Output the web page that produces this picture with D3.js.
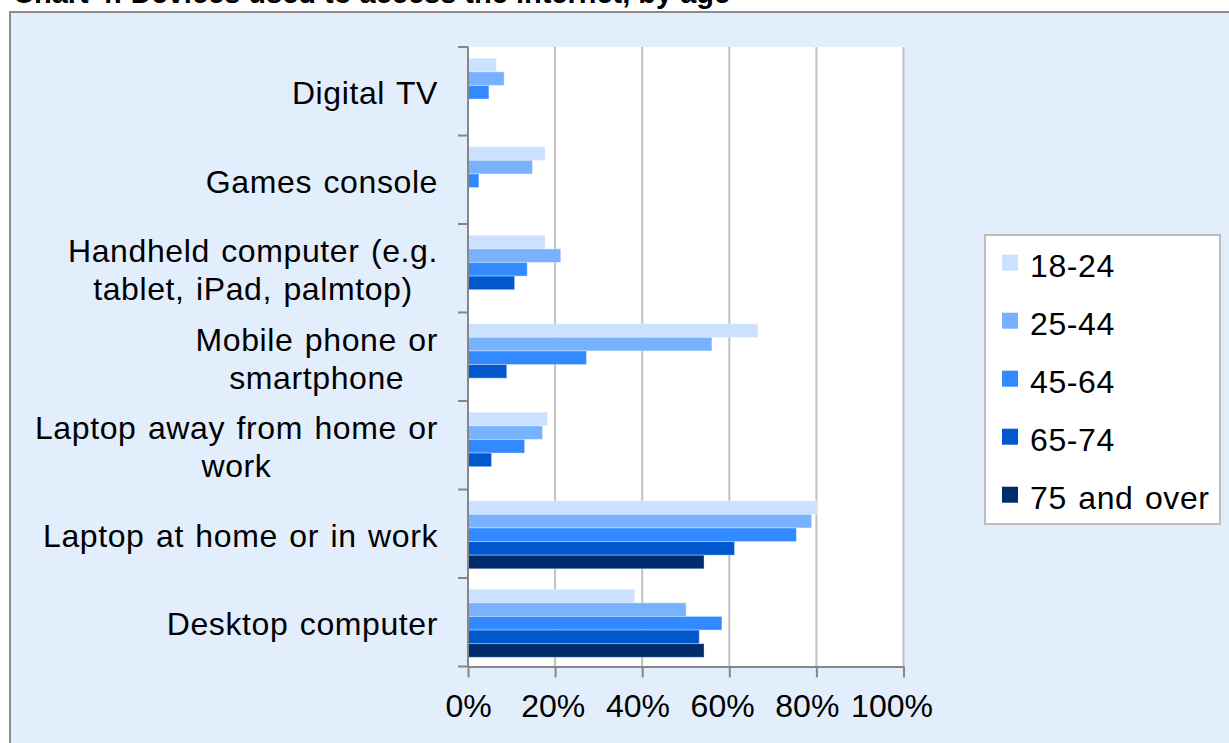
<!DOCTYPE html>
<html>
<head>
<meta charset="utf-8">
<script src="https://cdn.jsdelivr.net/npm/d3@7"></script>
<style>
  html, body { margin: 0; padding: 0; background: #ffffff; overflow: hidden; }
  svg { display: block; }
  text { font-family: "Liberation Sans", Arial, sans-serif; }
</style>
</head>
<body>
<svg id="chart" width="1229" height="743"></svg>
<script>
// Device categories (top to bottom), with their wrapped label lines
const categories = [
  "Digital TV",
  "Games console",
  "Handheld computer",
  "Mobile phone",
  "Laptop away",
  "Laptop at home",
  "Desktop computer"
];
const categoryLines = [
  ["Digital TV"],
  ["Games console"],
  ["Handheld computer (e.g.", "tablet, iPad, palmtop)"],
  ["Mobile phone or", "smartphone"],
  ["Laptop away from home or", "work"],
  ["Laptop at home or in work"],
  ["Desktop computer"]
];

// Age groups and share (%) of each group using each device
const ageGroups = ["18-24", "25-44", "45-64", "65-74", "75 and over"];
const age18to24 = [6.5, 17.7, 17.7, 66.6, 18.3, 80.1, 38.3];
const age25to44 = [8.3, 14.8, 21.3, 56.0, 17.1, 78.9, 50.1];
const age45to64 = [4.8, 2.5, 13.6, 27.2, 13.0, 75.4, 58.3];
const age65to74 = [null, null, 10.7, 8.9, 5.4, 61.2, 53.1];
const age75plus = [null, null, null, null, null, 54.2, 54.2];
const seriesValues = [age18to24, age25to44, age45to64, age65to74, age75plus];

const xTicks = [0, 20, 40, 60, 80, 100];
const titleText = "Chart 4: Devices used to access the internet, by age";

const colors = ["#CCE0FF", "#78B2FF", "#3389FF", "#0057CE", "#002C6B"];

const svg = d3.select("#chart");

// Title (sits above the frame, partly cut at the top edge)
svg.append("text")
  .attr("x", 13).attr("y", 3)
  .attr("font-size", 29).attr("font-weight", "bold")
  .attr("fill", "#000")
  .text(titleText);

// Outer chart frame
svg.append("rect")
  .attr("x", 10).attr("y", 12)
  .attr("width", 1300).attr("height", 800)
  .attr("fill", "#E2EEFC")
  .attr("stroke", "#8C8C8C").attr("stroke-width", 2);

// Scales
const x = d3.scaleLinear().domain([0, 100]).range([468, 903.5]);
const y = d3.scaleBand().domain(categories).range([47, 666.5]).paddingInner(0).paddingOuter(0);
const ySub = d3.scaleBand().domain(ageGroups).range([0, y.bandwidth()]).paddingInner(0).paddingOuter(0.75);

// Plot area
svg.append("rect")
  .attr("x", x(0)).attr("y", y.range()[0])
  .attr("width", x(100) - x(0)).attr("height", y.range()[1] - y.range()[0])
  .attr("fill", "#ffffff");

// Vertical gridlines
svg.append("g")
  .selectAll("line")
  .data(xTicks.filter(d => d > 0))
  .join("line")
  .attr("x1", d => x(d)).attr("x2", d => x(d))
  .attr("y1", y.range()[0]).attr("y2", y.range()[1])
  .attr("stroke", "#C0C0C0").attr("stroke-width", 2);

// Bars
const rows = [];
categories.forEach((c, i) => {
  ageGroups.forEach((g, j) => {
    const v = seriesValues[j][i];
    if (v != null) rows.push({ cat: c, group: g, value: v, color: colors[j] });
  });
});
svg.append("g")
  .selectAll("rect")
  .data(rows)
  .join("rect")
  .attr("x", x(0))
  .attr("y", d => y(d.cat) + ySub(d.group) + 1)
  .attr("width", d => x(d.value) - x(0))
  .attr("height", ySub.bandwidth())
  .attr("fill", d => d.color)
  .attr("stroke", "rgba(255,255,255,0.35)")
  .attr("stroke-width", 1);

// X axis
const xAxis = d3.axisBottom(x)
  .tickValues(xTicks)
  .tickSize(11)
  .tickSizeOuter(0)
  .tickPadding(16)
  .tickFormat(d => d + "%");
const gx = svg.append("g")
  .attr("transform", `translate(0,${y.range()[1]})`)
  .call(xAxis);
gx.select(".domain").attr("stroke", "#878787").attr("stroke-width", 2);
gx.selectAll(".tick line").attr("stroke", "#878787").attr("stroke-width", 2);
gx.selectAll(".tick text")
  .attr("font-size", 32)
  .attr("fill", "#000")
  .attr("dy", "0.72em")
  .attr("dx", d => -d * 0.12);

// Y axis: line with ticks at category boundaries
const boundaries = categories.map(c => y(c)).concat([y.range()[1]]);
const gy = svg.append("g");
gy.append("line")
  .attr("x1", x(0)).attr("x2", x(0))
  .attr("y1", y.range()[0]).attr("y2", y.range()[1] + 1)
  .attr("stroke", "#878787").attr("stroke-width", 2);
gy.selectAll("line.tick")
  .data(boundaries)
  .join("line")
  .attr("class", "tick")
  .attr("x1", x(0) - 10).attr("x2", x(0))
  .attr("y1", d => d).attr("y2", d => d)
  .attr("stroke", "#878787").attr("stroke-width", 2);

// Category labels: right-aligned block, lines centred within it
const labelRight = 438;
const lineH = 38;
categories.forEach((c, i) => {
  const lines = categoryLines[i];
  const cy = y(c) + y.bandwidth() / 2;
  const g = svg.append("g");
  const texts = g.selectAll("text")
    .data(lines)
    .join("text")
    .attr("font-size", 32)
    .attr("letter-spacing", "0.6px")
    .attr("word-spacing", "2px")
    .attr("fill", "#000")
    .attr("text-anchor", "middle")
    .attr("y", (d, k) => cy + (k - (lines.length - 1) / 2) * lineH + 13)
    .text(d => d);
  let maxW = 0;
  texts.each(function () { maxW = Math.max(maxW, this.getComputedTextLength()); });
  texts.attr("x", labelRight - maxW / 2);
});

// Legend
const legend = svg.append("g");
legend.append("rect")
  .attr("x", 985).attr("y", 235)
  .attr("width", 235).attr("height", 289)
  .attr("fill", "#ffffff")
  .attr("stroke", "#BDBDBD").attr("stroke-width", 2);
const rowsL = legend.selectAll("g.item")
  .data(ageGroups)
  .join("g")
  .attr("class", "item")
  .attr("transform", (d, i) => `translate(0,${276.7 + i * 58})`);
rowsL.append("rect")
  .attr("x", 1002).attr("y", -22)
  .attr("width", 16).attr("height", 16)
  .attr("fill", (d, i) => colors[i]);
rowsL.append("text")
  .attr("x", 1030).attr("y", 0)
  .attr("font-size", 32)
  .attr("letter-spacing", "0.6px")
  .attr("word-spacing", "2px")
  .attr("fill", "#000")
  .text(d => d);
</script>
</body>
</html>
